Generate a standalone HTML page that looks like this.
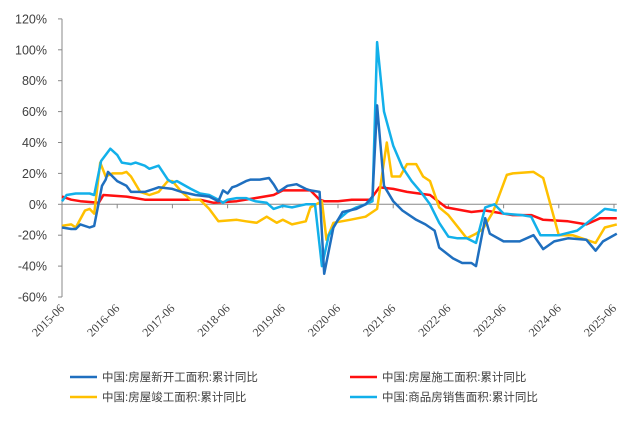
<!DOCTYPE html>
<html><head><meta charset="utf-8"><style>
body{margin:0;background:#fff;width:635px;height:419px;overflow:hidden}
svg text{font-family:"Liberation Sans","Noto Sans CJK SC",sans-serif}
svg text.xl{font-family:"Liberation Serif",serif}
</style></head><body>
<svg id="c" width="635" height="419"></svg>
<script>
const xLabels=["2015-06","2016-06","2017-06","2018-06","2019-06","2020-06","2021-06","2022-06","2023-06","2024-06","2025-06"];
const yTicks=[120,100,80,60,40,20,0,-20,-40,-60];
const seriesNames=["中国:房屋新开工面积:累计同比","中国:房屋施工面积:累计同比","中国:房屋竣工面积:累计同比","中国:商品房销售面积:累计同比"];
const seriesColors=["#1f6fbf","#ff1010","#ffc000","#12b0ea"];
const newStartMonths=[0,2,3,4,6,7,8.7,9.5,10,12,14,15,18,20,21,24,26,29,32,34,35,36,37,38,40,41,43,45,46,47,48,49,51,53,54,56,57,59,61,64,66,67.5,68.5,70,72,74,77,79,81,82,85,87,89,90,92,93,96,99.5,102.5,104.6,107,110,114,116,117.6,120.6];
const newStartVals=[-15,-16,-16,-13,-15,-14,12,16,21,15,12,8,8,10,11,10,8,6,5,2,9,7,11,12,15,16,16,17,13,8,10,12,13,10,9,8,-45,-15,-5,-3,0,5,64,12,2,-4,-10,-13,-17,-28,-35,-38,-38,-40,-9,-19,-24,-24,-20,-29,-24,-22,-23,-30,-24,-19];
const underConMonths=[0,2,4,8,9,14,18,24,30,33,38,42,46,48,54,56,57,60,63,67,69,72,75,80,83.5,89,92,98,102,104.6,110,114,117,120.6];
const underConVals=[5,3,2,1,6,5,3,3,3,1,2,4,6,9,9,3,2,2,3,3,11,10,8,6,-2,-5,-4,-7,-7,-10,-11,-13,-9,-9];
const completeMonths=[0,2,3,5,6,7,8.3,9.5,11,13,14,15,17,19,21,23,24,26,28,30,32,34,38,40,42.3,44.5,46.7,48,50,53,54,56.5,57.5,59,62.6,66,67.5,68.5,70.6,71.7,73.5,75,77,78.5,80,82,84,88,90,91.5,93.7,96.7,98,102.5,104.6,108,111,114,116,118,120.6];
const completeVals=[-14,-13,-15,-4,-3,-6,27,18,20,20,21,18,8,6,8,15,15,8,3,3,-3,-11,-10,-11,-12,-8,-12,-10,-13,-11,-2,2,-23,-12,-10,-8,-5,-3,40,18,18,26,26,18,15,-2,-7,-22,-19,-16,-5,19,20,21,17,-20,-20,-23,-25,-15,-13,-14];
const salesMonths=[0,1,3,6,7,8.5,10.5,12,13,15,16,18,19,21,23,24,25,28,30,32,34,35,36,38,40,42,44.5,46,48,50,53,55,56.5,58,60,62,64,66,67.5,68.5,70,72,74,76,78,80,82,84,86,88,90,92,94,96,100,102,104,108,112,115,118,120.6];
const salesVals=[2,6,7,7,6,28,36,32,27,26,27,25,23,25,16,14,15,10,7,6,3,1,3,4,4,2,1,-3,-1,-2,0,0,-40,-20,-10,-5,-2,0,2,105,60,38,24,15,8,0,-12,-21,-22,-22,-25,-2,0,-6,-7,-8,-20,-20,-17,-10,-3,-4];

const svg=document.getElementById('c');const NS='http://www.w3.org/2000/svg';
const X=m=>62+m*4.6, Y=v=>204.3-v*1.545;
function el(t,a,p){const e=document.createElementNS(NS,t);for(const k in a)e.setAttribute(k,a[k]);(p||svg).appendChild(e);return e;}
const ya=el('line',{x1:62,y1:Y(120),x2:62,y2:Y(-60),stroke:'#888','stroke-width':1});


yTicks.forEach(v=>{
  el('line',{x1:58,y1:Y(v),x2:62,y2:Y(v),stroke:'#888'});
  const t=el('text',{x:47,y:Y(v)+4.5,'text-anchor':'end','font-size':12.5,fill:'#404040'});
  t.textContent=v+'%';
  
  
});
const xa=el('line',{x1:62,y1:Y(0),x2:X(120.6),y2:Y(0),stroke:'#888','stroke-width':1});


xLabels.forEach((l,i)=>{
  const x=X(i*12);
  el('line',{x1:x,y1:Y(0),x2:x,y2:Y(0)+4,stroke:'#888'});
  const t=el('text',{x:x+3,y:309,'text-anchor':'end','font-size':12,fill:'#404040',class:'xl',transform:`rotate(-45 ${x+3} 309)`});
  t.textContent=l;
  
  
});
const all=[[newStartMonths,newStartVals],[underConMonths,underConVals],[completeMonths,completeVals],[salesMonths,salesVals]];
const order=[1,2,3,0];
const names=['line-new-starts','line-under-construction','line-completions','line-sales'];
order.forEach(i=>{
  const [ms,vs]=all[i];
  const d=ms.map((m,j)=>(j?'L':'M')+X(m).toFixed(1)+','+Y(vs[j]).toFixed(1)).join('');
  const p=el('path',{d,fill:'none',stroke:seriesColors[i],'stroke-width':2.5,'stroke-linejoin':'round'});
  
  
});
const pos=[[70,377],[350,377],[70,397],[350,397]];
seriesNames.forEach((n,i)=>{
  const g=el('g',{});
  
  
  el('line',{x1:pos[i][0],y1:pos[i][1],x2:pos[i][0]+27,y2:pos[i][1],stroke:seriesColors[i],'stroke-width':2.5},g);
  const t=el('text',{x:pos[i][0]+32,y:pos[i][1]+4,'font-size':11.5,fill:'#404040'},g);
  t.textContent=n;
});
</script>
</body></html>
